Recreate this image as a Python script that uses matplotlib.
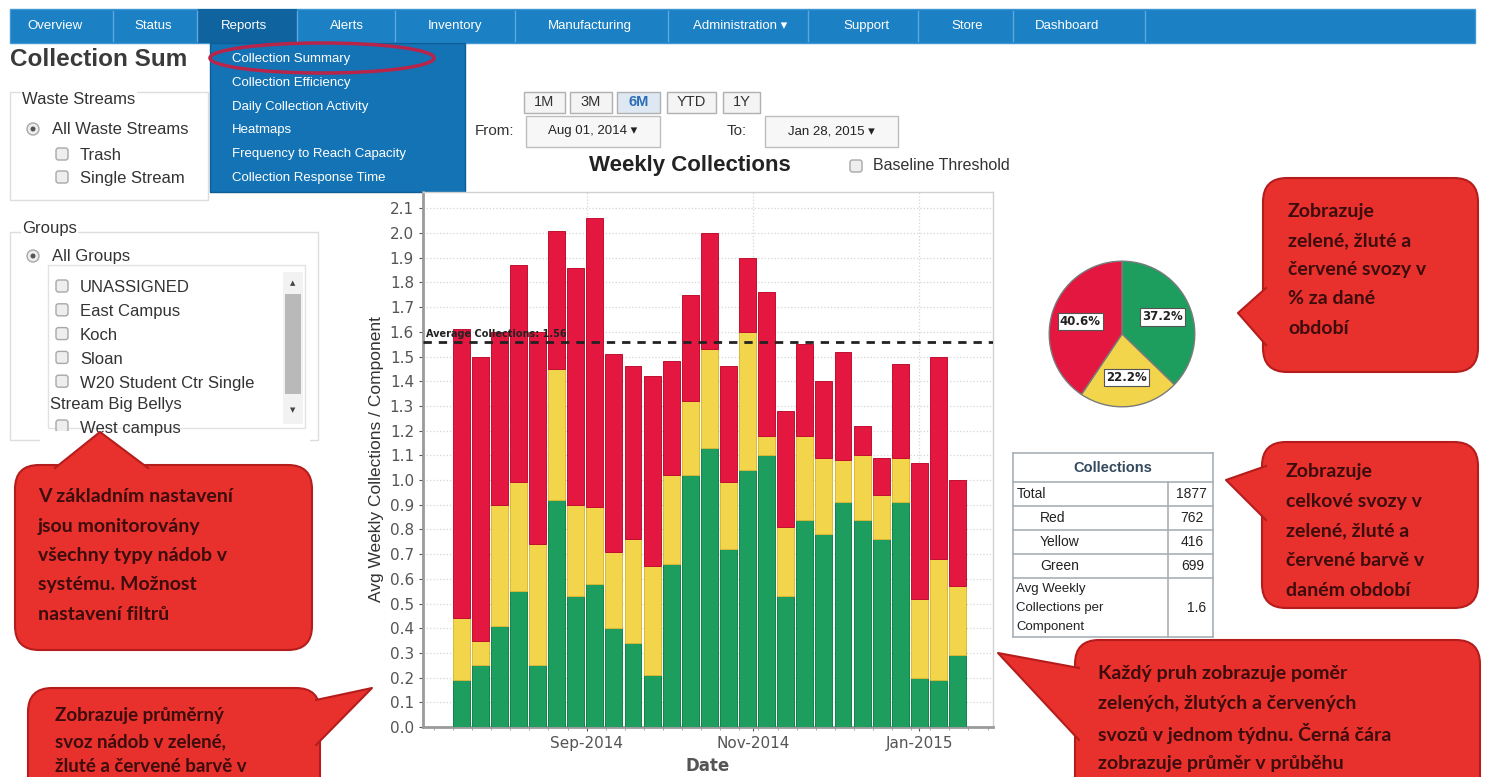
import matplotlib
matplotlib.use('Agg')
import matplotlib.pyplot as plt
import matplotlib.dates as mdates
from matplotlib.patches import Rectangle, FancyBboxPatch, Polygon, Ellipse, Circle
import pandas as pd

# weekly collections per component, split by fill level
week_centers = pd.date_range('2014-07-17', periods=27, freq='7D')
green = [0.19, 0.25, 0.41, 0.55, 0.25, 0.92, 0.53, 0.58, 0.40, 0.34, 0.21, 0.66, 1.02, 1.13,
         0.72, 1.04, 1.10, 0.53, 0.84, 0.78, 0.91, 0.84, 0.76, 0.91, 0.20, 0.19, 0.29]
yellow = [0.25, 0.10, 0.49, 0.44, 0.49, 0.53, 0.37, 0.31, 0.31, 0.42, 0.44, 0.36, 0.30, 0.40,
          0.27, 0.56, 0.08, 0.28, 0.34, 0.31, 0.17, 0.26, 0.18, 0.18, 0.32, 0.49, 0.28]
red = [1.17, 1.15, 0.70, 0.88, 0.86, 0.56, 0.96, 1.17, 0.80, 0.70, 0.77, 0.46, 0.43, 0.47,
       0.47, 0.30, 0.58, 0.47, 0.37, 0.31, 0.44, 0.12, 0.15, 0.38, 0.55, 0.82, 0.43]
average_collections = 1.56

# collections table / pie
count_names = ['Red', 'Yellow', 'Green']
count_values = [762, 416, 699]
total_collections = 1877
avg_per_component = 1.6

nav_items = ['Overview', 'Status', 'Reports', 'Alerts', 'Inventory', 'Manufacturing',
             'Administration \u25be', 'Support', 'Store', 'Dashboard']
nav_centers = [55, 153, 244, 347, 455, 590, 740, 866, 967, 1067]
nav_separators = [113, 197, 297, 395, 515, 668, 808, 918, 1013, 1145]
menu_items = ['Collection Summary', 'Collection Efficiency', 'Daily Collection Activity',
              'Heatmaps', 'Frequency to Reach Capacity', 'Collection Response Time']
group_items = ['UNASSIGNED', 'East Campus', 'Koch', 'Sloan', 'W20 Student Ctr Single']
range_buttons = ['1M', '3M', '6M', 'YTD', '1Y']

RED = '#e3173f'
YELLOW = '#f2d54a'
GREEN = '#1e9e5e'
BUBBLE = '#e8302c'
BUBBLE_EDGE = '#b51d1d'
BUBBLE_TEXT = '#3d0c0c'
UI = ['Liberation Sans', 'DejaVu Sans']

fig = plt.figure(figsize=(14.85, 7.77), dpi=100)

# page background in pixel coordinates
bg = fig.add_axes([0, 0, 1, 1], zorder=0)
bg.set_xlim(0, 1485)
bg.set_ylim(777, 0)
bg.axis('off')


def txt(x, y, s, size=12, color='#333333', weight='normal', ha='left', family=UI, **kw):
    bg.text(x, y, s, fontsize=size, color=color, fontweight=weight, ha=ha, va='center',
            family=family, **kw)


def checkbox(x, y):
    bg.add_patch(FancyBboxPatch((x - 6, y - 6), 12, 12, boxstyle='round,pad=0,rounding_size=2.5',
                                fc='#eeeeee', ec='#a8a8a8', lw=1))


def radio(x, y):
    bg.add_patch(Circle((x, y), 6, fc='#eeeeee', ec='#a8a8a8', lw=1))
    bg.add_patch(Circle((x, y), 2.5, fc='#555555', ec='none'))


def bubble(x0, y0, x1, y1, tail, lines, tx, ty0, step=29.5, size=14):
    bg.add_patch(FancyBboxPatch((x0, y0), x1 - x0, y1 - y0,
                                boxstyle='round,pad=0,rounding_size=24',
                                fc=BUBBLE, ec=BUBBLE_EDGE, lw=1.5, zorder=5))
    bg.add_patch(Polygon(tail, closed=True, fc=BUBBLE, ec='none', zorder=6))
    bg.plot([tail[0][0], tail[1][0], tail[2][0]], [tail[0][1], tail[1][1], tail[2][1]],
            color=BUBBLE_EDGE, lw=1.5, zorder=6)
    for i, line in enumerate(lines):
        bg.text(tx, ty0 + i * step, line, fontsize=size, color=BUBBLE_TEXT, fontweight='bold',
                family=['Lato', 'DejaVu Sans'], va='center', ha='left', zorder=7)


# top navigation bar
bg.add_patch(Rectangle((10, 9), 1465, 34, fc='#1b80c4', ec='#3f97d3', lw=1))
bg.add_patch(Rectangle((198, 9), 99, 34, fc='#0f639e', ec='none'))
for sx in nav_separators:
    bg.plot([sx, sx], [11, 41], color='#5aa8dd', lw=1)
for name, cx in zip(nav_items, nav_centers):
    txt(cx, 26, name, size=9.5, color='white', ha='center')

# heading and filter panels
txt(10, 60, 'Collection Sum', size=17.5, weight='bold', color='#3a3a3a')
bg.add_patch(Rectangle((10, 92), 198, 108, fc='none', ec='#dddddd', lw=1))
txt(22, 100, 'Waste Streams', size=12, color='#333333',
    bbox=dict(fc='white', ec='none', pad=1))
radio(33, 129)
txt(52, 129, 'All Waste Streams', size=12)
checkbox(62, 154)
txt(80, 155, 'Trash', size=12)
checkbox(62, 177)
txt(80, 179, 'Single Stream', size=12)

bg.add_patch(Rectangle((10, 232), 308, 208, fc='none', ec='#dddddd', lw=1))
txt(22, 228, 'Groups', size=12, bbox=dict(fc='white', ec='none', pad=1))
radio(33, 256)
txt(52, 256, 'All Groups', size=12)
bg.add_patch(Rectangle((48, 265), 257, 163, fc='white', ec='#e2e2e2', lw=1))
for i, name in enumerate(group_items):
    checkbox(62, 286 + i * 23.8)
    txt(80, 288 + i * 23.8, name, size=12)
txt(50, 405, 'Stream Big Bellys', size=12)
checkbox(62, 426)
txt(80, 428, 'West campus', size=12)
bg.add_patch(Rectangle((40, 431), 270, 12, fc='white', ec='none'))
bg.add_patch(Rectangle((283, 272), 20, 152, fc='#f2f2f2', ec='none'))
bg.add_patch(Rectangle((285, 294), 16, 100, fc='#b9b9b9', ec='none'))
txt(293, 283, '\u25b2', size=5, color='#444444', ha='center', family=['DejaVu Sans'])
txt(293, 410, '\u25bc', size=5, color='#444444', ha='center', family=['DejaVu Sans'])

# reports dropdown menu
bg.add_patch(Rectangle((210, 43), 255, 149, fc='#1373b5', ec='#0d5e96', lw=1, zorder=3))
for i, item in enumerate(menu_items):
    bg.text(232, 59 + i * 23.8, item, fontsize=9.5, color='white', va='center', family=UI, zorder=4)
bg.add_patch(Ellipse((322, 58), 224, 30, fc='none', ec='#b8254a', lw=2.5, zorder=4))

# date range controls
bx = [524, 570, 617, 667, 723]
bw = [41, 42, 43, 49, 37]
for label, x, w in zip(range_buttons, bx, bw):
    active = label == '6M'
    bg.add_patch(Rectangle((x, 92), w, 21, fc='#dde8f3' if active else '#f4f4f4',
                           ec='#b0b0b0', lw=1))
    txt(x + w / 2, 102.5, label, size=10.5, ha='center',
        color='#2c6db4' if active else '#333333', weight='bold' if active else 'normal')
txt(475, 131, 'From:', size=11)
bg.add_patch(Rectangle((526, 116), 134, 31, fc='#f7f7f7', ec='#bdbdbd', lw=1))
txt(593, 131, 'Aug 01, 2014 \u25be', size=9.5, ha='center', color='#222222')
txt(727, 131, 'To:', size=11)
bg.add_patch(Rectangle((765, 116), 133, 31, fc='#f7f7f7', ec='#bdbdbd', lw=1))
txt(831, 131, 'Jan 28, 2015 \u25be', size=9.5, ha='center', color='#222222')

txt(690, 166, 'Weekly Collections', size=16, weight='bold', ha='center', color='#222222')
checkbox(856, 166)
txt(873, 166, 'Baseline Threshold', size=11.5)

# collections table
rows_y = [453, 482, 506, 530, 554, 578, 637]
for yy in rows_y:
    bg.plot([1013, 1213], [yy, yy], color='#a7b0b8', lw=1.2)
bg.plot([1013, 1013], [453, 637], color='#a7b0b8', lw=1.2)
bg.plot([1213, 1213], [453, 637], color='#a7b0b8', lw=1.2)
bg.plot([1168, 1168], [482, 637], color='#a7b0b8', lw=1.2)
txt(1113, 468, 'Collections', size=10.5, weight='bold', ha='center', color='#34495e')
txt(1017, 494, 'Total', size=10, color='#222222')
txt(1207, 494, str(total_collections), size=10, ha='right', color='#222222')
for i, (name, val) in enumerate(zip(count_names, count_values)):
    txt(1040, 518 + i * 24, name, size=10, color='#222222')
    txt(1204, 518 + i * 24, str(val), size=10, ha='right', color='#222222')
txt(1016, 589, 'Avg Weekly', size=9.5, color='#222222')
txt(1016, 608, 'Collections per', size=9.5, color='#222222')
txt(1016, 627, 'Component', size=9.5, color='#222222')
txt(1197, 608, '%.1f' % avg_per_component, size=10, ha='center', color='#222222')

# callout bubbles
bubble(15, 465, 312, 650, [(55, 468), (100, 432), (148, 468)],
       ['V základním nastavení', 'jsou monitorovány', 'všechny typy nádob v',
        'systému. Možnost', 'nastavení filtrů'], 38, 497, 29.3)
bubble(28, 688, 320, 820, [(316, 700), (372, 688), (316, 745)],
       ['Zobrazuje průměrný', 'svoz nádob v zelené,', 'žluté a červené barvě v'], 55, 716, 25.5,
       size=13.5)
bubble(1263, 178, 1478, 372, [(1266, 288), (1238, 313), (1266, 345)],
       ['Zobrazuje', 'zelené, žluté a', 'červené svozy v', '% za dané', 'období'], 1288, 212, 29)
bubble(1262, 442, 1478, 608, [(1266, 466), (1226, 480), (1266, 520)],
       ['Zobrazuje', 'celkové svozy v', 'zelené, žluté a', 'červené barvě v', 'daném období'],
       1286, 472, 29.5)
bubble(1075, 640, 1480, 820, [(1079, 668), (998, 653), (1079, 740)],
       ['Každý pruh zobrazuje poměr', 'zelených, žlutých a červených',
        'svozů v jednom týdnu. Černá čára', 'zobrazuje průměr v průběhu'], 1098, 674, 29.7)

# weekly collections chart
ax = fig.add_axes([423 / 1485, 1 - 727 / 777, 570 / 1485, 535 / 777], zorder=2)
bottom_y = [g + y for g, y in zip(green, yellow)]
ax.bar(week_centers, green, width=6.2, color=GREEN, edgecolor='#14824a', lw=0.7, zorder=3)
ax.bar(week_centers, yellow, bottom=green, width=6.2, color=YELLOW, edgecolor='#d8b93a', lw=0.7,
       zorder=3)
ax.bar(week_centers, red, bottom=bottom_y, width=6.2, color=RED, edgecolor='#c0102f', lw=0.7,
       zorder=3)
ax.axhline(average_collections, color='#222222', lw=2, ls=(0, (3, 2.5)), zorder=4)
ax.text(pd.Timestamp('2014-07-04'), average_collections + 0.012,
        'Average Collections: %.2f' % average_collections,
        fontsize=7, fontweight='bold', color='#222222', va='bottom', zorder=5)
ax.set_xlim(pd.Timestamp('2014-07-03'), pd.Timestamp('2015-01-28'))
ax.set_ylim(0, 2.166)
ax.set_yticks([i / 10 for i in range(22)])
ax.yaxis.set_major_formatter(matplotlib.ticker.FormatStrFormatter('%.1f'))
ax.xaxis.set_major_locator(mdates.MonthLocator(bymonth=[9, 11, 1]))
ax.xaxis.set_major_formatter(mdates.DateFormatter('%b-%Y'))
ax.xaxis.set_minor_locator(mdates.WeekdayLocator(byweekday=mdates.MO))
ax.tick_params(axis='both', labelsize=11, colors='#555555', length=3)
ax.tick_params(axis='x', which='minor', length=2, color='#999999')
ax.grid(True, which='major', color='#d5d5d5', ls=':', lw=0.9, zorder=0)
for side in ['left', 'bottom']:
    ax.spines[side].set_color('#9a9a9a')
    ax.spines[side].set_linewidth(2)
for side in ['top', 'right']:
    ax.spines[side].set_color('#d0d0d0')
    ax.spines[side].set_linewidth(1)
ax.set_ylabel('Avg Weekly Collections / Component', fontsize=12.5, color='#333333', family=UI)
ax.set_xlabel('Date', fontsize=12, fontweight='bold', color='#555555', labelpad=4)

# share of collections
pie_ax = fig.add_axes([1031 / 1485, 1 - 425 / 777, 182 / 1485, 182 / 777], zorder=2)
pie_ax.pie([count_values[2], count_values[1], count_values[0]], colors=[GREEN, YELLOW, RED],
           startangle=90, counterclock=False, autopct='%.1f%%', pctdistance=0.6,
           wedgeprops=dict(edgecolor='#7a7a7a', linewidth=1),
           textprops=dict(fontsize=8.5, fontweight='bold', color='#222222',
                          bbox=dict(fc='white', ec='#555555', lw=0.8, pad=1.5)))
pie_ax.set_aspect('equal')

fig.savefig('out.png', dpi=100)
